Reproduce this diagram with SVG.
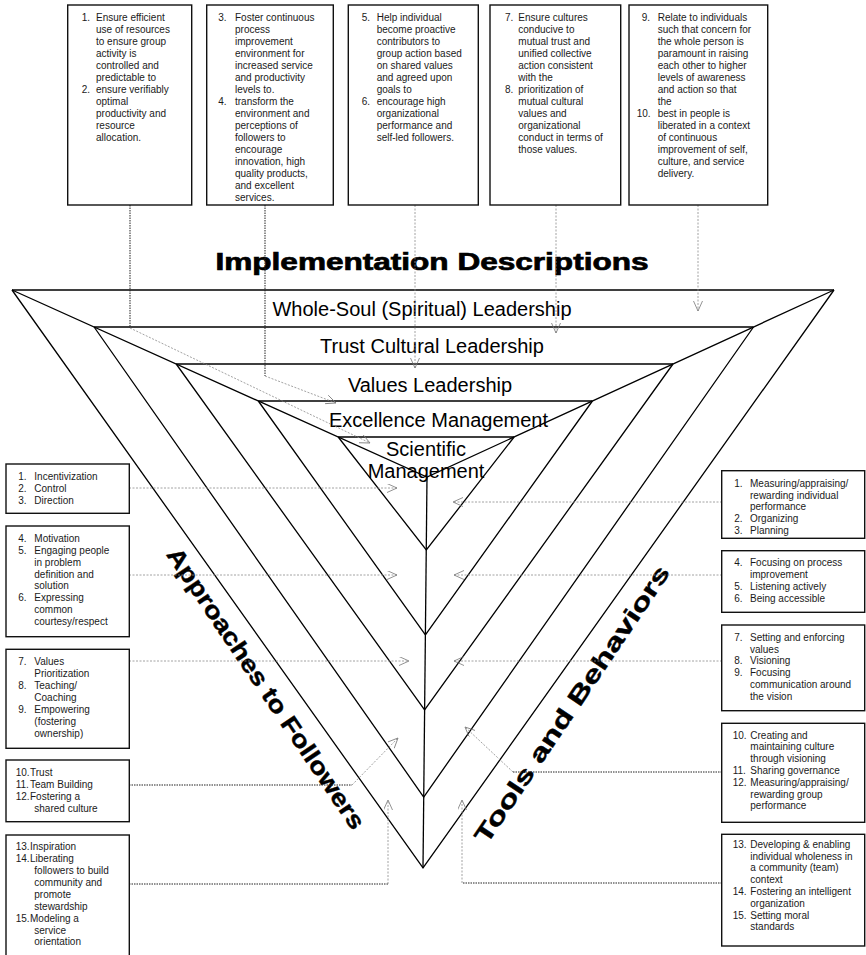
<svg xmlns="http://www.w3.org/2000/svg" width="866" height="955" viewBox="0 0 866 955">
<style>
.box{fill:#fff;stroke:#111;stroke-width:1.4}
.t{font-family:"Liberation Sans",Arial,Helvetica,sans-serif;font-size:10px;fill:#1a1a1a}
.lvl{font-family:"Liberation Sans",Arial,Helvetica,sans-serif;font-size:20px;fill:#000;text-anchor:middle}
.fig{stroke:#000;stroke-width:1.3;fill:none;stroke-linejoin:miter}
.dk{stroke:#222;stroke-width:1;stroke-dasharray:1.5 1;fill:none}
.lt{stroke:#8a8a8a;stroke-width:0.8;stroke-dasharray:2 1.5;fill:none}
.big{font-family:"Liberation Sans",Arial,Helvetica,sans-serif;font-weight:bold;fill:#000;stroke:#000;text-anchor:middle}
</style>
<defs>
<marker id="ah" markerUnits="userSpaceOnUse" markerWidth="12" markerHeight="10" refX="10" refY="4.5" orient="auto">
<path d="M0,0 L10,4.5 L0,9" fill="none" stroke="#777" stroke-width="0.8"/>
</marker>
</defs>
<rect width="866" height="955" fill="#fff"/>

<g id="pyramid">
<path class="fig" d="M12,290 H834 M94.1,327 H753.5 M176.2,364 H673 M258.3,401 H592.4 M338.2,437 H514.1"/>
<path class="fig" d="M12,290 L427,477 L834,290"/>
<path class="fig" d="M427,477 L423,868"/>
<path class="fig" d="M12,290 L423,868 L834,290 M94.1,327 L423.7,797 L753.5,327 M176.2,364 L424.6,710 L673,364 M258.3,401 L425.4,635 L592.4,401 M338.2,437 L426.3,550 L514.1,437"/>
</g>

<g id="title">
<text class="big" x="432" y="270" font-size="23" stroke-width="0.7" textLength="433" lengthAdjust="spacingAndGlyphs">Implementation Descriptions</text>
</g>

<g id="levels">
<text class="lvl" x="422" y="315.5">Whole-Soul (Spiritual) Leadership</text>
<text class="lvl" x="432" y="353">Trust Cultural Leadership</text>
<text class="lvl" x="430" y="391.5">Values Leadership</text>
<text class="lvl" x="438.5" y="426.5">Excellence Management</text>
<text class="lvl" x="426" y="455.5">Scientific</text>
<text class="lvl" x="426" y="478">Management</text>
</g>

<g id="axis-labels">
<text class="big" font-size="24" stroke-width="0.4" dy="7" textLength="334" lengthAdjust="spacingAndGlyphs" transform="translate(265,689) rotate(56)">Approaches to Followers</text>
<text class="big" font-size="24" stroke-width="0.4" dy="7" textLength="329" lengthAdjust="spacingAndGlyphs" transform="translate(573,705) rotate(-56)">Tools and Behaviors</text>
</g>

<g id="connectors">
<path class="dk" d="M130,205 V328"/>
<path class="lt" d="M130,328 L370,443" marker-end="url(#ah)"/>
<path class="dk" d="M265,205 V376"/>
<path class="lt" d="M265,376 L336,403" marker-end="url(#ah)"/>
<path class="lt" d="M415,205 V368" marker-end="url(#ah)"/>
<path class="lt" d="M556,205 V333" marker-end="url(#ah)"/>
<path class="lt" d="M698,205 V311" marker-end="url(#ah)"/>

<path class="lt" d="M129,488 H397" marker-end="url(#ah)"/>
<path class="lt" d="M129,575 H397" marker-end="url(#ah)"/>
<path class="lt" d="M129,661 H409" marker-end="url(#ah)"/>
<path class="dk" d="M129,785 H352"/>
<path class="lt" d="M352,785 L398,738" marker-end="url(#ah)"/>
<path class="dk" d="M129,884 H388"/>
<path class="lt" d="M388,884 V800" marker-end="url(#ah)"/>

<path class="lt" d="M722,502 H453" marker-end="url(#ah)"/>
<path class="lt" d="M722,575 H454" marker-end="url(#ah)"/>
<path class="lt" d="M722,661 H454" marker-end="url(#ah)"/>
<path class="dk" d="M722,772 H513"/>
<path class="lt" d="M513,772 L465,727" marker-end="url(#ah)"/>
<path class="dk" d="M722,883 H462"/>
<path class="lt" d="M462,883 V800" marker-end="url(#ah)"/>
</g>

<g id="top1">
<rect class="box" x="67.7" y="5" width="124" height="200"/>
<text class="t"><tspan x="81.7" y="20.5">1.</tspan><tspan x="96" y="20.5">Ensure efficient</tspan><tspan x="96" y="32.5">use of resources</tspan><tspan x="96" y="44.5">to ensure group</tspan><tspan x="96" y="56.5">activity is</tspan><tspan x="96" y="68.5">controlled and</tspan><tspan x="96" y="80.5">predictable to</tspan><tspan x="81.7" y="92.5">2.</tspan><tspan x="96" y="92.5">ensure verifiably</tspan><tspan x="96" y="104.5">optimal</tspan><tspan x="96" y="116.5">productivity and</tspan><tspan x="96" y="128.5">resource</tspan><tspan x="96" y="140.5">allocation.</tspan></text>
</g>
<g id="top2">
<rect class="box" x="206.7" y="5" width="126.6" height="200"/>
<text class="t"><tspan x="218.3" y="20.5">3.</tspan><tspan x="235" y="20.5">Foster continuous</tspan><tspan x="235" y="32.5">process</tspan><tspan x="235" y="44.5">improvement</tspan><tspan x="235" y="56.5">environment for</tspan><tspan x="235" y="68.5">increased service</tspan><tspan x="235" y="80.5">and productivity</tspan><tspan x="235" y="92.5">levels to.</tspan><tspan x="218.3" y="104.5">4.</tspan><tspan x="235" y="104.5">transform the</tspan><tspan x="235" y="116.5">environment and</tspan><tspan x="235" y="128.5">perceptions of</tspan><tspan x="235" y="140.5">followers to</tspan><tspan x="235" y="152.5">encourage</tspan><tspan x="235" y="164.5">innovation, high</tspan><tspan x="235" y="176.5">quality products,</tspan><tspan x="235" y="188.5">and excellent</tspan><tspan x="235" y="200.5">services.</tspan></text>
</g>
<g id="top3">
<rect class="box" x="348.3" y="5" width="130" height="200"/>
<text class="t"><tspan x="361.7" y="20.5">5.</tspan><tspan x="376.7" y="20.5">Help individual</tspan><tspan x="376.7" y="32.5">become proactive</tspan><tspan x="376.7" y="44.5">contributors to</tspan><tspan x="376.7" y="56.5">group action based</tspan><tspan x="376.7" y="68.5">on shared values</tspan><tspan x="376.7" y="80.5">and agreed upon</tspan><tspan x="376.7" y="92.5">goals to</tspan><tspan x="361.7" y="104.5">6.</tspan><tspan x="376.7" y="104.5">encourage high</tspan><tspan x="376.7" y="116.5">organizational</tspan><tspan x="376.7" y="128.5">performance and</tspan><tspan x="376.7" y="140.5">self-led followers.</tspan></text>
</g>
<g id="top4">
<rect class="box" x="490" y="5" width="130.7" height="200"/>
<text class="t"><tspan x="505" y="20.5">7.</tspan><tspan x="518.3" y="20.5">Ensure cultures</tspan><tspan x="518.3" y="32.5">conducive to</tspan><tspan x="518.3" y="44.5">mutual trust and</tspan><tspan x="518.3" y="56.5">unified collective</tspan><tspan x="518.3" y="68.5">action consistent</tspan><tspan x="518.3" y="80.5">with the</tspan><tspan x="505" y="92.5">8.</tspan><tspan x="518.3" y="92.5">prioritization of</tspan><tspan x="518.3" y="104.5">mutual cultural</tspan><tspan x="518.3" y="116.5">values and</tspan><tspan x="518.3" y="128.5">organizational</tspan><tspan x="518.3" y="140.5">conduct in terms of</tspan><tspan x="518.3" y="152.5">those values.</tspan></text>
</g>
<g id="top5">
<rect class="box" x="629" y="5" width="138.7" height="200"/>
<text class="t"><tspan x="641.7" y="20.5">9.</tspan><tspan x="657.7" y="20.5">Relate to individuals</tspan><tspan x="657.7" y="32.5">such that concern for</tspan><tspan x="657.7" y="44.5">the whole person is</tspan><tspan x="657.7" y="56.5">paramount in raising</tspan><tspan x="657.7" y="68.5">each other to higher</tspan><tspan x="657.7" y="80.5">levels of awareness</tspan><tspan x="657.7" y="92.5">and action so that</tspan><tspan x="657.7" y="104.5">the</tspan><tspan x="636.7" y="116.5">10.</tspan><tspan x="657.7" y="116.5">best in people is</tspan><tspan x="657.7" y="128.5">liberated in a context</tspan><tspan x="657.7" y="140.5">of continuous</tspan><tspan x="657.7" y="152.5">improvement of self,</tspan><tspan x="657.7" y="164.5">culture, and service</tspan><tspan x="657.7" y="176.5">delivery.</tspan></text>
</g>

<g id="left1">
<rect class="box" x="6" y="464" width="123.3" height="49.3"/>
<text class="t"><tspan x="18.3" y="480.2">1.</tspan><tspan x="34.3" y="480.2">Incentivization</tspan><tspan x="18.3" y="492.1">2.</tspan><tspan x="34.3" y="492.1">Control</tspan><tspan x="18.3" y="504">3.</tspan><tspan x="34.3" y="504">Direction</tspan></text>
</g>
<g id="left2">
<rect class="box" x="6" y="526" width="123.3" height="110.7"/>
<text class="t"><tspan x="18.3" y="541.8">4.</tspan><tspan x="34.3" y="541.8">Motivation</tspan><tspan x="18.3" y="553.7">5.</tspan><tspan x="34.3" y="553.7">Engaging people</tspan><tspan x="34.3" y="565.6">in problem</tspan><tspan x="34.3" y="577.5">definition and</tspan><tspan x="34.3" y="589.4">solution</tspan><tspan x="18.3" y="601.3">6.</tspan><tspan x="34.3" y="601.3">Expressing</tspan><tspan x="34.3" y="613.2">common</tspan><tspan x="34.3" y="625.1">courtesy/respect</tspan></text>
</g>
<g id="left3">
<rect class="box" x="6" y="649.3" width="123.3" height="99"/>
<text class="t"><tspan x="18.3" y="665.2">7.</tspan><tspan x="34.3" y="665.2">Values</tspan><tspan x="34.3" y="677.1">Prioritization</tspan><tspan x="18.3" y="689">8.</tspan><tspan x="34.3" y="689">Teaching/</tspan><tspan x="34.3" y="700.9">Coaching</tspan><tspan x="18.3" y="712.8">9.</tspan><tspan x="34.3" y="712.8">Empowering</tspan><tspan x="34.3" y="724.7">(fostering</tspan><tspan x="34.3" y="736.6">ownership)</tspan></text>
</g>
<g id="left4">
<rect class="box" x="6" y="760" width="123.3" height="61.7"/>
<text class="t"><tspan x="15.7" y="776.2">10.</tspan><tspan x="30" y="776.2">Trust</tspan><tspan x="15.7" y="788.1">11.</tspan><tspan x="30" y="788.1">Team Building</tspan><tspan x="15.7" y="800">12.</tspan><tspan x="30" y="800">Fostering a</tspan><tspan x="34.3" y="811.9">shared culture</tspan></text>
</g>
<g id="left5">
<rect class="box" x="6" y="835" width="123.3" height="123"/>
<text class="t"><tspan x="15.7" y="850.2">13.</tspan><tspan x="30" y="850.2">Inspiration</tspan><tspan x="15.7" y="862.1">14.</tspan><tspan x="30" y="862.1">Liberating</tspan><tspan x="34.3" y="874">followers to build</tspan><tspan x="34.3" y="885.9">community and</tspan><tspan x="34.3" y="897.8">promote</tspan><tspan x="34.3" y="909.7">stewardship</tspan><tspan x="15.7" y="921.6">15.</tspan><tspan x="30" y="921.6">Modeling a</tspan><tspan x="34.3" y="933.5">service</tspan><tspan x="34.3" y="945.4">orientation</tspan></text>
</g>

<g id="right1">
<rect class="box" x="721.7" y="470.7" width="143" height="67.6"/>
<text class="t"><tspan x="734.3" y="486.8">1.</tspan><tspan x="750" y="486.8">Measuring/appraising/</tspan><tspan x="750" y="498.6">rewarding individual</tspan><tspan x="750" y="510.4">performance</tspan><tspan x="734.3" y="522.2">2.</tspan><tspan x="750" y="522.2">Organizing</tspan><tspan x="734.3" y="534">3.</tspan><tspan x="750" y="534">Planning</tspan></text>
</g>
<g id="right2">
<rect class="box" x="721.7" y="550.7" width="143" height="61.6"/>
<text class="t"><tspan x="734.3" y="566.2">4.</tspan><tspan x="750" y="566.2">Focusing on process</tspan><tspan x="750" y="578">improvement</tspan><tspan x="734.3" y="589.8">5.</tspan><tspan x="750" y="589.8">Listening actively</tspan><tspan x="734.3" y="601.6">6.</tspan><tspan x="750" y="601.6">Being accessible</tspan></text>
</g>
<g id="right3">
<rect class="box" x="721.7" y="625" width="143" height="85.7"/>
<text class="t"><tspan x="734.3" y="640.8">7.</tspan><tspan x="750" y="640.8">Setting and enforcing</tspan><tspan x="750" y="652.6">values</tspan><tspan x="734.3" y="664.4">8.</tspan><tspan x="750" y="664.4">Visioning</tspan><tspan x="734.3" y="676.2">9.</tspan><tspan x="750" y="676.2">Focusing</tspan><tspan x="750" y="688">communication around</tspan><tspan x="750" y="699.8">the vision</tspan></text>
</g>
<g id="right4">
<rect class="box" x="721.7" y="723.3" width="143" height="99"/>
<text class="t"><tspan x="732.7" y="738.5">10.</tspan><tspan x="750.3" y="738.5">Creating and</tspan><tspan x="750.3" y="750.3">maintaining culture</tspan><tspan x="750.3" y="762.1">through visioning</tspan><tspan x="732.7" y="773.9">11.</tspan><tspan x="750.3" y="773.9">Sharing governance</tspan><tspan x="732.7" y="785.7">12.</tspan><tspan x="750.3" y="785.7">Measuring/appraising/</tspan><tspan x="750.3" y="797.5">rewarding group</tspan><tspan x="750.3" y="809.3">performance</tspan></text>
</g>
<g id="right5">
<rect class="box" x="721.7" y="834.3" width="143" height="111.7"/>
<text class="t"><tspan x="732.7" y="847.8">13.</tspan><tspan x="750.3" y="847.8">Developing &amp; enabling</tspan><tspan x="750.3" y="859.6">individual wholeness in</tspan><tspan x="750.3" y="871.4">a community (team)</tspan><tspan x="750.3" y="883.2">context</tspan><tspan x="732.7" y="895">14.</tspan><tspan x="750.3" y="895">Fostering an intelligent</tspan><tspan x="750.3" y="906.8">organization</tspan><tspan x="732.7" y="918.6">15.</tspan><tspan x="750.3" y="918.6">Setting moral</tspan><tspan x="750.3" y="930.4">standards</tspan></text>
</g>
</svg>
